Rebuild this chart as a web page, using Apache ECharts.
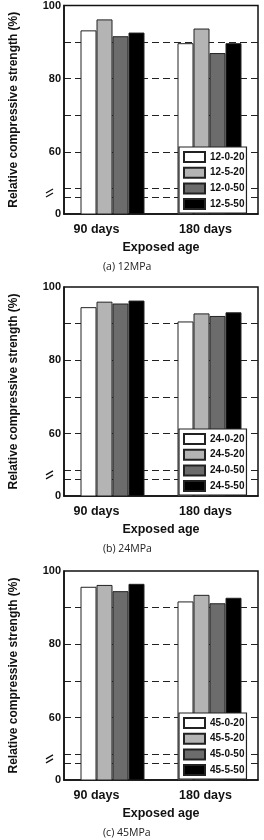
<!DOCTYPE html>
<html>
<head>
<meta charset="utf-8">
<script src="https://cdn.jsdelivr.net/npm/echarts@6.0.0/dist/echarts.min.js"></script>
<style>
html, body { margin: 0; padding: 0; background: #fff; }
#main { width: 264px; height: 840px; }
</style>
</head>
<body>
<div id="main"></div>
<script>
// categories
var ages = ['90 days', '180 days'];
var captions = ['(a) 12MPa', '(b) 24MPa', '(c) 45MPa'];

// series names per panel
var names12 = ['12-0-20', '12-5-20', '12-0-50', '12-5-50'];
var names24 = ['24-0-20', '24-5-20', '24-0-50', '24-5-50'];
var names45 = ['45-0-20', '45-5-20', '45-0-50', '45-5-50'];

// relative compressive strength (%), [90 days, 180 days], same order as names
var values12 = [[93.2, 89.7], [96.2, 93.7], [91.6, 87.0], [92.6, 89.7]];
var values24 = [[94.5, 90.6], [96.0, 92.8], [95.5, 92.1], [96.3, 93.1]];
var values45 = [[95.7, 91.7], [96.2, 93.5], [94.5, 91.2], [96.5, 92.7]];

// y axis: broken axis, bottom of the drawn range is labelled "0"
var yMin = 43;
var yMax = 100;
var yLabelValues = [43, 60, 80, 100];
var yLabelTexts = ['0', '60', '80', '100'];
var gridLineValues = [47.5, 50, 60, 70, 80, 90];
var breakValue = 48.75;

var panelNames = [names12, names24, names45];
var panelValues = [values12, values24, values45];
var panelTop = [0, 282, 566];
var fills = ['#ffffff', '#b4b4b4', '#6c6c6c', '#000000'];
var boldFont = '"Liberation Sans", Arial, sans-serif';
var step = 0.5;

// split line colours: only the gridLineValues are visible
var splitColors = [];
for (var v = yMin; v <= yMax + 1e-9; v += step) {
    splitColors.push(gridLineValues.indexOf(v) >= 0 ? '#222' : 'rgba(0,0,0,0)');
}

var option = {
    animation: false,
    backgroundColor: '#fff',
    title: [],
    grid: [],
    legend: [],
    xAxis: [],
    yAxis: [],
    series: []
};

function each(arr, fn) { for (var i = 0; i < arr.length; i++) fn(arr[i], i); }

each(panelTop, function (t, i) {
    option.title.push({
        text: captions[i],
        left: 98,
        top: t + 257,
        textStyle: { fontSize: 10.5, fontWeight: 'normal', fontFamily: '"Open Sans", sans-serif', color: '#222' }
    });
    option.grid.push({
        left: 50, top: t + 5, width: 208, height: 209,
        show: true, borderColor: '#111', borderWidth: 1.5, backgroundColor: 'transparent'
    });
    option.legend.push({
        orient: 'vertical',
        left: 179,
        top: t + 147,
        data: panelNames[i],
        icon: 'rect',
        itemWidth: 21,
        itemHeight: 10,
        itemGap: 3.7,
        padding: [4, 2, 3, 4],
        borderColor: '#222',
        borderWidth: 1.2,
        backgroundColor: '#fff',
        selectedMode: false,
        textStyle: { fontSize: 10, lineHeight: 10, fontWeight: 'bold', color: '#111', fontFamily: boldFont }
    });
    option.xAxis.push({
        type: 'category',
        gridIndex: i,
        data: ages,
        axisLine: { lineStyle: { color: '#111', width: 1.5 } },
        axisTick: { show: false },
        axisLabel: {
            margin: 9,
            formatter: function (val) {
                return val === ages[0] ? '{a|' + val + '}' : '{b|' + val + '}';
            },
            rich: {
                a: { fontSize: 12.5, fontWeight: 'bold', color: '#111', fontFamily: boldFont, padding: [0, 32, 0, 0] },
                b: { fontSize: 12.5, fontWeight: 'bold', color: '#111', fontFamily: boldFont, padding: [0, 8, 0, 0] }
            }
        },
        name: 'Exposed age',
        nameLocation: 'middle',
        nameGap: 27,
        nameTextStyle: { fontSize: 12.5, fontWeight: 'bold', color: '#111', fontFamily: boldFont }
    });
    option.yAxis.push({
        type: 'value',
        gridIndex: i,
        min: yMin,
        max: yMax,
        interval: step,
        axisLine: { show: true, lineStyle: { color: '#111', width: 1.5 } },
        axisTick: { show: false },
        axisLabel: {
            margin: 3,
            fontSize: 11,
            fontWeight: 'bold',
            color: '#111',
            fontFamily: boldFont,
            formatter: function (val) {
                var k = yLabelValues.indexOf(val);
                return k >= 0 ? yLabelTexts[k] : '';
            }
        },
        splitLine: { show: true, lineStyle: { color: splitColors, type: [7, 4], width: 1 } },
        name: 'Relative compressive strength (%)',
        nameLocation: 'middle',
        nameGap: 44,
        nameTextStyle: { fontSize: 12, fontWeight: 'bold', color: '#111', fontFamily: boldFont }
    });
    each(panelNames[i], function (nm, j) {
        option.series.push({
            type: 'bar',
            name: nm,
            xAxisIndex: i,
            yAxisIndex: i,
            data: panelValues[i][j],
            barWidth: 16,
            barGap: '0%',
            itemStyle: { color: fills[j], borderColor: '#222', borderWidth: 1 }
        });
    });
});

var chart = echarts.init(document.getElementById('main'));
chart.setOption(option);

// axis break mark on each y axis
var graphics = [];
each(panelTop, function (t, i) {
    var p = chart.convertToPixel({ gridIndex: i }, [0, breakValue]);
    var x = 50, y = p[1];
    graphics.push({ type: 'rect', shape: { x: x - 3, y: y - 2, width: 6, height: 4 }, style: { fill: '#fff' }, z: 100 });
    graphics.push({ type: 'line', shape: { x1: x - 4, y1: y, x2: x + 3, y2: y - 4 }, style: { stroke: '#111', lineWidth: 1.3 }, z: 101 });
    graphics.push({ type: 'line', shape: { x1: x - 4, y1: y + 4, x2: x + 3, y2: y }, style: { stroke: '#111', lineWidth: 1.3 }, z: 101 });
});
chart.setOption({ graphic: graphics });
</script>
</body>
</html>
